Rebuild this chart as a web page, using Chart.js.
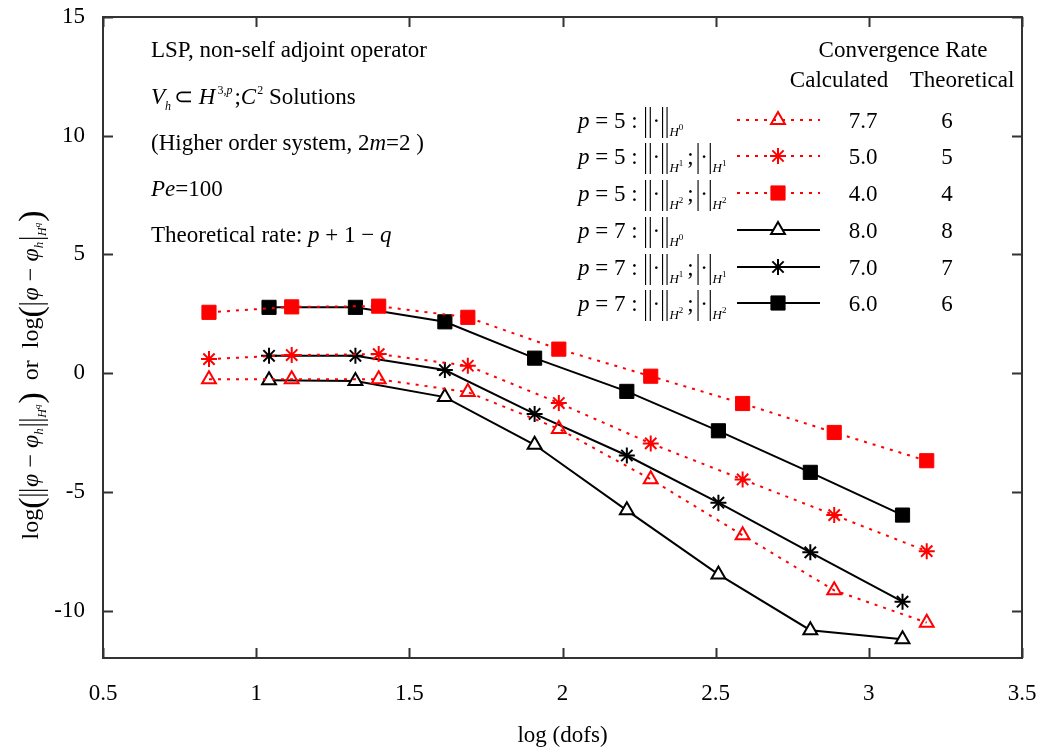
<!DOCTYPE html>
<html><head><meta charset="utf-8">
<script src="https://cdn.jsdelivr.net/npm/chart.js@4/dist/chart.umd.min.js"></script>
<style>html,body{margin:0;padding:0;background:#fff}#wrap{width:1044px;height:755px;position:relative}</style>
</head><body><div id="wrap"><canvas id="c" width="1044" height="755"></canvas></div>
<script>
// ---- data (log10 of dofs, log10 of error) ----
const logDofsP5 = [0.846, 1.116, 1.400, 1.691, 1.988, 2.288, 2.588, 2.887, 3.189];
const logDofsP7 = [1.042, 1.324, 1.616, 1.909, 2.210, 2.509, 2.809, 3.110];
const errP5H0 = [-0.26, -0.26, -0.26, -0.80, -2.35, -4.47, -6.83, -9.15, -10.51];
const errP5H1 = [0.59, 0.76, 0.80, 0.31, -1.26, -2.96, -4.48, -5.98, -7.50];
const errP5H2 = [2.56, 2.79, 2.82, 2.35, 1.01, -0.13, -1.28, -2.50, -3.69];
const errP7H0 = [-0.30, -0.33, -1.01, -3.02, -5.78, -8.48, -10.83, -11.21];
const errP7H1 = [0.73, 0.73, 0.13, -1.72, -3.47, -5.46, -7.55, -9.63];
const errP7H2 = [2.77, 2.77, 2.16, 0.63, -0.77, -2.43, -4.18, -5.98];
const calcRates = ['7.7', '5.0', '4.0', '8.0', '7.0', '6.0'];
const theoRates = ['6', '5', '4', '8', '7', '6'];
const xTickValues = [0.5, 1, 1.5, 2, 2.5, 3, 3.5];
const yTickValues = [-10, -5, 0, 5, 10, 15];

const SERIF = "'Liberation Serif','Times New Roman',serif";
const RED = '#ff0000', BLACK = '#000000';
function fnt(s, i) { return (i ? 'italic ' : '') + s + 'px ' + SERIF; }

function drawRich(ctx, x, y, runs, align) {
  let total = 0;
  runs.forEach(r => { ctx.font = fnt(r.s || 23, r.i); r._w = ctx.measureText(r.t).width + (r.dx || 0) + (r.after || 0); total += r._w; });
  let cx = align === 'center' ? x - total / 2 : (align === 'right' ? x - total : x);
  runs.forEach(r => {
    ctx.font = fnt(r.s || 23, r.i);
    const px = cx + (r.dx || 0), py = y + (r.dy || 0);
    if (r.sy) { ctx.save(); ctx.translate(px, py); ctx.scale(1, r.sy); ctx.fillText(r.t, 0, 0); ctx.restore(); }
    else ctx.fillText(r.t, px, py);
    cx += r._w;
  });
}

function mk(xs, ys) { return xs.map((x, i) => ({ x: x, y: ys[i] })); }

const styles = [
  { c: RED, dash: [3, 6], ps: 'triangle', r: 8, bw: 2, bg: 'rgba(0,0,0,0)' },
  { c: RED, dash: [3, 6], ps: 'star', r: 8, bw: 2, bg: 'rgba(0,0,0,0)' },
  { c: RED, dash: [3, 6], ps: 'rect', r: 10, bw: 1, bg: RED },
  { c: BLACK, dash: [], ps: 'triangle', r: 8, bw: 2, bg: '#ffffff' },
  { c: BLACK, dash: [], ps: 'star', r: 8, bw: 2, bg: 'rgba(0,0,0,0)' },
  { c: BLACK, dash: [], ps: 'rect', r: 10, bw: 1, bg: BLACK }
];
const seriesData = [mk(logDofsP5, errP5H0), mk(logDofsP5, errP5H1), mk(logDofsP5, errP5H2),
                    mk(logDofsP7, errP7H0), mk(logDofsP7, errP7H1), mk(logDofsP7, errP7H2)];

const datasets = seriesData.map((d, i) => {
  const s = styles[i];
  return {
    data: d, showLine: true, tension: 0,
    borderColor: s.c, borderWidth: 2, borderDash: s.dash,
    pointStyle: s.ps, pointRadius: s.r, pointHoverRadius: s.r,
    pointBorderWidth: s.bw, pointBorderColor: s.c, pointBackgroundColor: s.bg
  };
});

const bars2 = () => [{ t: '||', s: 23, sy: 1.45, dy: 3 }, { t: '·', s: 23 }, { t: '||', s: 23, sy: 1.45, dy: 3 }];
const bars1 = () => [{ t: '|', s: 23, sy: 1.45, dy: 3 }, { t: '·', s: 23 }, { t: '|', s: 23, sy: 1.45, dy: 3 }];
function rowLabel(p, q) {
  const r = [{ t: 'p', i: true }, { t: ' = ' + p + ' : ' }];
  r.push(...bars2());
  r.push({ t: 'H', s: 13, i: true, dy: 8 }, { t: String(q), s: 9, dy: 2, after: 4 });
  if (q > 0) {
    r.push({ t: ';', after: 2 });
    r.push(...bars1());
    r.push({ t: 'H', s: 13, i: true, dy: 8 }, { t: String(q), s: 9, dy: 2 });
  }
  return r;
}
const rowP = [5, 5, 5, 7, 7, 7], rowQ = [0, 1, 2, 0, 1, 2];
const rowY = [120, 156, 193, 230, 267, 303];

const decor = {
  id: 'decor',
  afterDraw(chart) {
    const ctx = chart.ctx, a = chart.chartArea, xs = chart.scales.x, ys = chart.scales.y;
    ctx.save();
    ctx.strokeStyle = '#333'; ctx.lineWidth = 2; ctx.setLineDash([]);
    ctx.strokeRect(a.left, a.top, a.right - a.left, a.bottom - a.top);
    ctx.beginPath();
    xTickValues.forEach(v => { const p = Math.round(xs.getPixelForValue(v)) + 0.5;
      ctx.moveTo(p, a.bottom); ctx.lineTo(p, a.bottom - 10); ctx.moveTo(p, a.top); ctx.lineTo(p, a.top + 10); });
    yTickValues.forEach(v => { const p = Math.round(ys.getPixelForValue(v)) + 0.5;
      ctx.moveTo(a.left, p); ctx.lineTo(a.left + 10, p); ctx.moveTo(a.right, p); ctx.lineTo(a.right - 10, p); });
    ctx.stroke();

    ctx.fillStyle = '#000'; ctx.textBaseline = 'alphabetic'; ctx.textAlign = 'left';
    const X0 = 151;
    drawRich(ctx, X0, 57, [{ t: 'LSP, non-self adjoint operator' }]);
    drawRich(ctx, X0, 104, [{ t: 'V', i: true }, { t: 'h', s: 12, i: true, dy: 6, after: 3 }, { t: '⊂ ', s: 23 },
      { t: 'H', i: true, after: 2 }, { t: '3,', s: 12, dy: -10 }, { t: 'p', s: 12, i: true, dy: -10, after: 2 }, { t: ';' },
      { t: 'C', i: true, after: 1 }, { t: '2', s: 12, dy: -10 }, { t: ' Solutions' }]);
    drawRich(ctx, X0, 150, [{ t: '(Higher order system, 2' }, { t: 'm', i: true }, { t: '=2 )' }]);
    drawRich(ctx, X0, 196, [{ t: 'Pe', i: true }, { t: '=100' }]);
    drawRich(ctx, X0, 242, [{ t: 'Theoretical rate: ' }, { t: 'p', i: true }, { t: ' + 1 − ' }, { t: 'q', i: true }]);

    drawRich(ctx, 903, 57, [{ t: 'Convergence Rate' }], 'center');
    drawRich(ctx, 839, 87, [{ t: 'Calculated' }], 'center');
    drawRich(ctx, 962, 87, [{ t: 'Theoretical' }], 'center');

    rowY.forEach((yy, i) => {
      ctx.fillStyle = '#000';
      drawRich(ctx, 578, yy + 8, rowLabel(rowP[i], rowQ[i]));
      drawRich(ctx, 863, yy + 8, [{ t: calcRates[i] }], 'center');
      drawRich(ctx, 947, yy + 8, [{ t: theoRates[i] }], 'center');
      const s = styles[i];
      ctx.save();
      ctx.strokeStyle = s.c; ctx.lineWidth = 2; ctx.setLineDash(s.dash);
      ctx.beginPath(); ctx.moveTo(737, yy); ctx.lineTo(820, yy); ctx.stroke();
      ctx.setLineDash([]);
      ctx.strokeStyle = s.c; ctx.fillStyle = s.bg; ctx.lineWidth = s.bw;
      Chart.helpers.drawPoint(ctx, { pointStyle: s.ps, radius: s.r, borderWidth: s.bw, rotation: 0 }, 778, yy);
      ctx.restore();
    });

    ctx.save();
    ctx.translate(38, 375);
    ctx.rotate(-Math.PI / 2);
    ctx.fillStyle = '#000';
    const yl = [
      { t: 'log', s: 24 }, { t: '(', s: 34, dy: 4 }, { t: '||', s: 24, sy: 1.35, dy: 3, after: 1 },
      { t: 'φ', s: 24, i: true }, { t: ' − ', s: 24 }, { t: 'φ', s: 24, i: true }, { t: 'h', s: 13, i: true, dy: 5, after: 1 },
      { t: '||', s: 24, sy: 1.35, dy: 3 }, { t: 'H', s: 12, i: true, dy: 8 }, { t: 'q', s: 9, i: true, dy: 2, after: 1 },
      { t: ')', s: 34, dy: 4 }, { t: '  or  ', s: 24 },
      { t: 'log', s: 24 }, { t: '(', s: 34, dy: 4 }, { t: '|', s: 24, sy: 1.35, dy: 3, after: 1 },
      { t: 'φ', s: 24, i: true }, { t: ' − ', s: 24 }, { t: 'φ', s: 24, i: true }, { t: 'h', s: 13, i: true, dy: 5, after: 1 },
      { t: '|', s: 24, sy: 1.35, dy: 3 }, { t: 'H', s: 12, i: true, dy: 8 }, { t: 'q', s: 9, i: true, dy: 2, after: 1 },
      { t: ')', s: 34, dy: 4 }
    ];
    drawRich(ctx, 0, 0, yl, 'center');
    ctx.restore();

    ctx.fillStyle = '#000';
    drawRich(ctx, (a.left + a.right) / 2, 742, [{ t: 'log (dofs)' }], 'center');
    ctx.restore();
  }
};

new Chart(document.getElementById('c'), {
  type: 'scatter',
  data: { datasets: datasets },
  options: {
    responsive: false, animation: false, events: [],
    layout: { padding: { left: 0, right: 22, top: 17, bottom: 0 } },
    plugins: { legend: { display: false }, tooltip: { enabled: false }, title: { display: false } },
    scales: {
      x: {
        type: 'linear', position: 'bottom', min: 0.5, max: 3.5,
        afterBuildTicks: s => { s.ticks = xTickValues.map(v => ({ value: v })); },
        afterFit: s => { s.height = 97; s.paddingLeft = 0; s.paddingRight = 0; },
        grid: { display: false }, border: { display: false },
        ticks: { color: '#000', font: { family: SERIF, size: 23 }, padding: 14, maxRotation: 0, autoSkip: false,
                 callback: v => String(v) }
      },
      y: {
        type: 'linear', position: 'left', min: -12, max: 15,
        afterBuildTicks: s => { s.ticks = yTickValues.map(v => ({ value: v })); },
        afterFit: s => { s.width = 103; s.paddingTop = 0; s.paddingBottom = 0; },
        grid: { display: false }, border: { display: false },
        ticks: { color: '#000', font: { family: SERIF, size: 23 }, padding: 10, autoSkip: false }
      }
    }
  },
  plugins: [decor]
});
</script>
</body></html>
